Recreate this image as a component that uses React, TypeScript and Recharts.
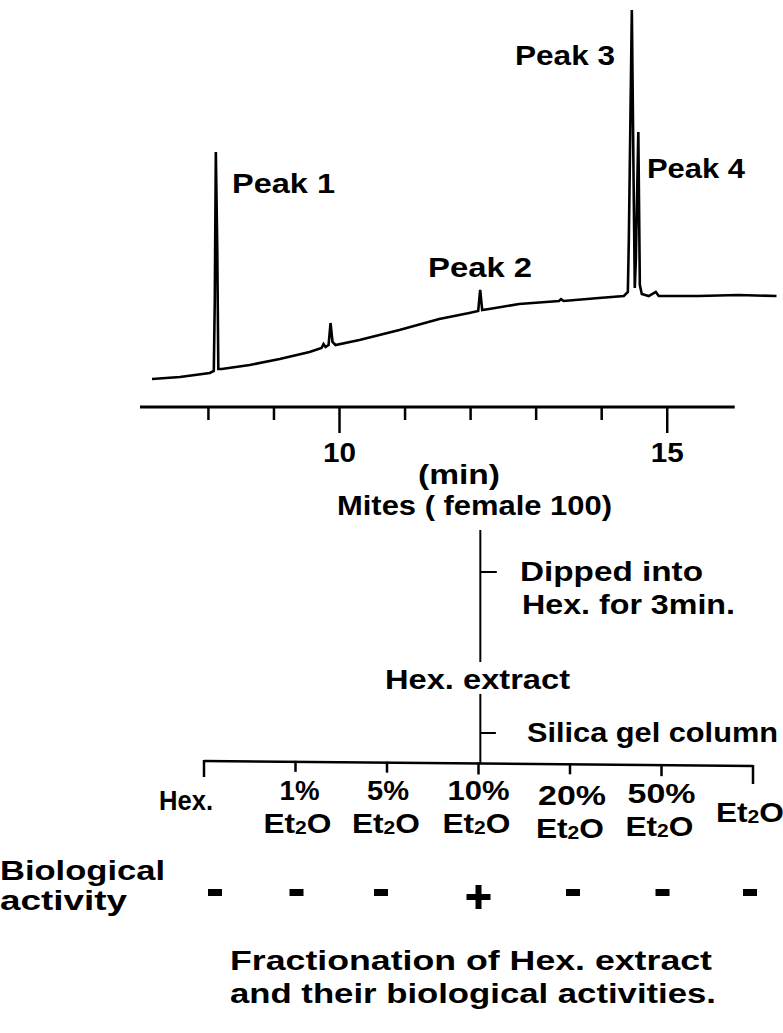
import React from 'react';
import {
  LineChart,
  Line,
  XAxis,
  YAxis,
  ReferenceLine,
  ComposedChart,
  Scatter,
  Customized,
} from 'recharts';

const FONT = "'Liberation Sans', Arial, Helvetica, sans-serif";

// ---------- Chromatogram data (retention time in min, detector response in arbitrary units) ----------
const retentionTime = [
  7.139, 7.565, 8.021, 8.082, 8.097, 8.113, 8.135, 8.151, 8.204, 8.63, 9.087, 9.543, 9.726, 9.756,
  9.787, 9.833, 9.863, 9.893, 9.939, 10.304, 10.913, 11.522, 11.979, 12.116, 12.146, 12.177, 12.283,
  12.74, 13.349, 13.38, 13.42, 13.957, 14.338, 14.399, 14.414, 14.46, 14.49, 14.505, 14.521, 14.559,
  14.582, 14.612, 14.718, 14.825, 14.871, 15.48, 16.088, 16.667,
];
const response = [
  6.88, 7.37, 8.35, 8.85, 26.3, 62.65, 38.6, 9.34, 9.34, 10.32, 11.79, 13.51, 14.5, 15.48,
  14.74, 15.23, 20.64, 15.97, 15.23, 16.46, 18.92, 21.62, 23.1, 23.59, 28.75, 23.83, 24.08,
  25.31, 26.04, 26.5, 26.04, 26.78, 27.27, 28.26, 41.03, 97.54, 50.86, 29.24, 36.1, 67.57,
  29.98, 27.76, 27.27, 28.26, 27.27, 27.27, 27.52, 27.27,
];
const timeTicks = [8, 9, 10, 11, 12, 13, 14, 15];
const labelledTicks = [10, 15];
const peakNames = ['Peak 1', 'Peak 2', 'Peak 3', 'Peak 4'];

// ---------- Fractionation data ----------
const fractionPercent = ['', '1%', '5%', '10%', '20%', '50%', ''];
const fractionSolvent = ['Hex.', 'Et2O', 'Et2O', 'Et2O', 'Et2O', 'Et2O', 'Et2O'];
const biologicalActivity = ['-', '-', '-', '+', '-', '-', '-'];
const flowSteps = ['Mites ( female 100)', 'Dipped  into', 'Hex. for 3min.', 'Hex.  extract', 'Silica gel column'];

const chromData = retentionTime.map((t, i) => ({ t, v: response[i] }));
const T_MIN = 6.956;
const T_MAX = 16.69;
const AXIS_END = 16.03;

// layout constants (page y coordinates used by the lower diagram's y scale)
const ROW_LABEL = 790;
const ROW_ACTIVITY = 892;
const BRACKET_Y_LEFT = 761;
const BRACKET_Y_RIGHT = 766;
const labelDx = [-18, 4, 1, 0, 2, 0, -3];
const labelDy = [10, 0, 0, 0, 5, 3, 22];
const markDx = [11, 1, -6, 0, 3, 1, -3];
const tickDrop = [16, 10, 10, 11, 10, 11, 18];

const fractionRows = fractionSolvent.map((s, i) => ({ idx: i, row: ROW_LABEL, name: s }));
const activityRows = biologicalActivity.map((a, i) => ({ idx: i, row: ROW_ACTIVITY, activity: a }));

const txt = {
  fontFamily: FONT,
  fontWeight: 700,
  fill: '#000',
} as const;

function T({ x, y, w, size = 28, children, anchor }: any) {
  const x0 = anchor === 'middle' ? x - w / 2 : x;
  return (
    <text x={x0} y={y} fontSize={size} textLength={w} lengthAdjust="spacingAndGlyphs" {...txt}>
      {children}
    </text>
  );
}

function Et2O({ cx, y, w = 68 }: any) {
  return (
    <text x={cx - w / 2} y={y} fontSize={27} textLength={w} lengthAdjust="spacingAndGlyphs" {...txt}>
      Et
      <tspan fontSize={18} dy={1}>
        2
      </tspan>
      <tspan dy={-1}>O</tspan>
    </text>
  );
}

const TimeTick = (props: any) => {
  const { x, y, payload } = props;
  const major = labelledTicks.includes(payload.value);
  return (
    <g>
      <line x1={x} x2={x} y1={y - 1} y2={y + (major ? 26 : 13)} stroke="#000" strokeWidth={2.5} />
      {major && (
        <T x={x} y={y + 55} w={33} size={28} anchor="middle">
          {String(payload.value)}
        </T>
      )}
    </g>
  );
};

const pctWidth: Record<string, number> = { '1%': 40, '5%': 42, '10%': 62, '20%': 68, '50%': 68 };

const FractionLabel = (props: any) => {
  const { cx, cy, payload } = props;
  const i = payload.idx;
  const pct = fractionPercent[i];
  const x = cx + labelDx[i];
  const y = cy + labelDy[i];
  if (!pct) {
    if (fractionSolvent[i] === 'Hex.') {
      return (
        <T x={x} y={y + 10} w={54} size={28} anchor="middle">
          Hex.
        </T>
      );
    }
    return <Et2O cx={x} y={y + 10} />;
  }
  return (
    <g>
      <T x={x} y={y + 10} w={pctWidth[pct]} size={27} anchor="middle">
        {pct}
      </T>
      <Et2O cx={x - 2} y={y + 43} />
    </g>
  );
};

const ActivityMark = (props: any) => {
  const { cx, cy, payload } = props;
  const x = cx + markDx[payload.idx];
  if (payload.activity === '+') {
    return (
      <g>
        <rect x={x - 12} y={cy + 2} width={24} height={6} fill="#000" />
        <rect x={x - 3} y={cy - 7} width={6} height={24} fill="#000" />
      </g>
    );
  }
  return <rect x={x - 7} y={cy - 3} width={14} height={7} fill="#000" />;
};

const PeakLabels = () => (
  <g>
    <T x={232} y={193} w={103} size={28}>{peakNames[0]}</T>
    <T x={428} y={277} w={104} size={28}>{peakNames[1]}</T>
    <T x={515} y={65} w={100} size={28}>{peakNames[2]}</T>
    <T x={647} y={178} w={98} size={28}>{peakNames[3]}</T>
  </g>
);

const FlowTexts = () => (
  <g>
    <T x={337} y={515} w={275}>{flowSteps[0]}</T>
    <T x={520} y={581} w={183}>{flowSteps[1]}</T>
    <T x={522} y={614} w={213}>{flowSteps[2]}</T>
    <T x={385} y={689} w={185}>{flowSteps[3]}</T>
    <T x={527} y={742} w={251}>{flowSteps[4]}</T>
    <T x={0} y={880} w={165}>Biological</T>
    <T x={0} y={910} w={127}>activity</T>
    <T x={230} y={970} w={482}>Fractionation of Hex. extract</T>
    <T x={230} y={1003} w={486}>and their biological activities.</T>
  </g>
);

const MinLabel = (props: any) => {
  const vb = props.viewBox || {};
  return (
    <T x={vb.x + vb.width / 2} y={vb.y + 77} w={82} anchor="middle">
      (min)
    </T>
  );
};

export default function App() {
  return (
    <div style={{ position: 'absolute', left: 0, top: 0, width: 783, height: 1033, background: '#fff' }}>
      <div style={{ position: 'absolute', left: 0, top: 0 }}>
        <LineChart width={783} height={500} data={chromData} margin={{ top: 0, right: 5, bottom: 0, left: 140 }}>
          <XAxis
            dataKey="t"
            type="number"
            domain={[T_MIN, T_MAX]}
            allowDataOverflow
            ticks={timeTicks}
            interval={0}
            axisLine={false}
            tickLine={false}
            tickSize={0}
            tickMargin={0}
            height={93}
            tick={<TimeTick />}
            label={{ content: <MinLabel /> }}
          />
          <YAxis type="number" domain={[0, 100]} hide allowDataOverflow />
          <ReferenceLine
            segment={[
              { x: T_MIN, y: 0 },
              { x: AXIS_END, y: 0 },
            ]}
            stroke="#000"
            strokeWidth={3}
            ifOverflow="visible"
          />
          <Line dataKey="v" type="linear" stroke="#000" strokeWidth={2.6} dot={false} isAnimationActive={false} />
          <Customized component={PeakLabels} />
        </LineChart>
      </div>
      <div style={{ position: 'absolute', left: 0, top: 0 }}>
        <ComposedChart width={783} height={1033} margin={{ top: 440, right: 30, bottom: 0, left: 204 }}>
          <XAxis dataKey="idx" type="number" domain={[0, 6]} hide />
          <YAxis type="number" domain={[440, 1033]} reversed hide />
          {/* flow: Mites -> Hex. extract */}
          <ReferenceLine segment={[{ x: 3.02, y: 530 }, { x: 3.02, y: 662 }]} stroke="#000" strokeWidth={2} ifOverflow="visible" />
          <ReferenceLine segment={[{ x: 3.02, y: 572 }, { x: 3.2, y: 572 }]} stroke="#000" strokeWidth={2} ifOverflow="visible" />
          {/* flow: Hex. extract -> column */}
          <ReferenceLine segment={[{ x: 3.02, y: 694 }, { x: 3.02, y: 763 }]} stroke="#000" strokeWidth={2} ifOverflow="visible" />
          <ReferenceLine segment={[{ x: 3.02, y: 733 }, { x: 3.19, y: 733 }]} stroke="#000" strokeWidth={2} ifOverflow="visible" />
          {/* fraction bracket */}
          <ReferenceLine
            segment={[{ x: 0, y: BRACKET_Y_LEFT }, { x: 6, y: BRACKET_Y_RIGHT }]}
            stroke="#000"
            strokeWidth={2.5}
            ifOverflow="visible"
          />
          {fractionSolvent.map((_, i) => {
            const yb = BRACKET_Y_LEFT + ((BRACKET_Y_RIGHT - BRACKET_Y_LEFT) * i) / 6;
            return (
              <ReferenceLine
                key={i}
                segment={[{ x: i, y: yb - 1 }, { x: i, y: yb + tickDrop[i] }]}
                stroke="#000"
                strokeWidth={2.5}
                ifOverflow="visible"
              />
            );
          })}
          <Scatter data={fractionRows} dataKey="row" shape={FractionLabel} isAnimationActive={false} />
          <Scatter data={activityRows} dataKey="row" shape={ActivityMark} isAnimationActive={false} />
          <Customized component={FlowTexts} />
        </ComposedChart>
      </div>
    </div>
  );
}
